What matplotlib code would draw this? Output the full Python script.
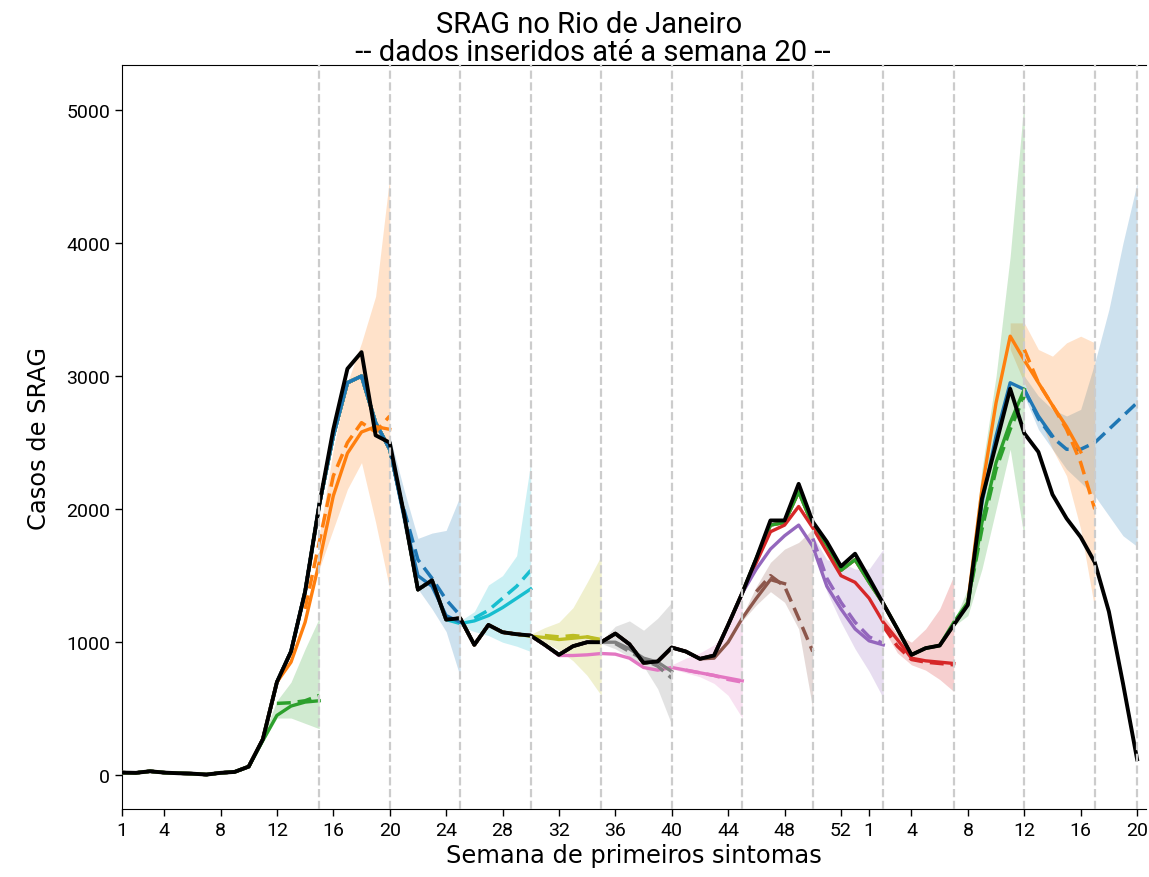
import numpy as np
import matplotlib
matplotlib.use("Agg")
import matplotlib.pyplot as plt

# casos de SRAG por semana (2020: sem 1-53, 2021: sem 1-20), dados inseridos ate a semana 20/2021
casos = [20, 18, 30, 20, 15, 12, 5, 18, 25, 65,
         270, 700, 930, 1380, 2030, 2600, 3055, 3180, 2555, 2500,
         1970, 1395, 1465, 1170, 1180, 980, 1130, 1075, 1060, 1050,
         980, 905, 970, 1000, 1000, 1065, 985, 845, 855, 960,
         930, 875, 900, 1130, 1370, 1630, 1915, 1915, 2190, 1905,
         1755, 1570, 1665, 1480, 1290, 1100, 905, 955, 975, 1130,
         1280, 2080, 2490, 2905, 2570, 2430, 2110, 1930, 1790, 1600,
         1230, 690, 120]

# serie consolidada vista pelas estimativas anteriores
casos_hist = list(casos)
casos_hist[15:20] = [2550, 2950, 3000, 2650, 2450]
casos_hist[46:54] = [1880, 1900, 2130, 1880, 1730, 1540, 1620, 1450]

# ultima semana de cada estimativa (indice), da mais recente para a mais antiga
corte = [72, 69, 64, 59, 54, 49, 44, 39, 34, 29, 24, 19, 14]

# estimativa (linha cheia): indice inicial e valores
est_ini = [60, 60, 59, 45, 45, 42, 31, 34, 29, 24, 19, 12, 10]
est = [
    [1290, 2050, 2550, 2950, 2900, 2700, 2550],
    [1300, 2150, 2800, 3300, 3120, 2950, 2780, 2620, 2430],
    [1150, 1300, 1900, 2350, 2650, 2900],
    [1600, 1830, 1880, 2020, 1860, 1680, 1500, 1450, 1330, 1150, 1020, 880, 860, 850, 840],
    [1550, 1700, 1800, 1880, 1720, 1420, 1250, 1100, 1010, 980],
    [880, 1000, 1180, 1330, 1470, 1440],
    [900, 900, 905, 915, 910, 880, 810, 790, 810, 790, 770, 750, 730, 710],
    [1000, 1000, 950, 880, 850, 780],
    [1045, 1035, 1020, 1030, 1040, 1010],
    [1140, 1160, 1200, 1260, 1330, 1400],
    [2450, 1950, 1500, 1420, 1200, 1150],
    [850, 1150, 1600, 2100, 2420, 2580, 2620, 2600],
    [260, 450, 520, 550, 560],
]

# mediana (linha tracejada)
med_ini = [64, 64, 60, 54, 49, 45, 40, 35, 30, 25, 20, 13, 11]
med = [
    [2900, 2680, 2540, 2450, 2450, 2500, 2600, 2700, 2800],
    [3200, 2950, 2780, 2600, 2350, 2000],
    [1300, 1850, 2300, 2600, 2850],
    [1120, 970, 870, 850, 840, 830],
    [1780, 1480, 1300, 1150, 1040, 990],
    [1380, 1500, 1420, 1180, 930],
    [790, 770, 750, 720, 700],
    [990, 930, 870, 820, 730],
    [1050, 1040, 1050, 1040, 1020],
    [1180, 1240, 1330, 1420, 1540],
    [2000, 1620, 1480, 1320, 1200],
    [1250, 1750, 2250, 2500, 2650, 2580, 2700],
    [540, 545, 560, 600],
]

# intervalo de confianca
ic_ini = [64, 63, 59, 54, 49, 44, 39, 34, 29, 24, 19, 14, 10]
ic_inf = [
    [2850, 2600, 2450, 2300, 2200, 2100, 1950, 1800, 1720],
    [3200, 2950, 2700, 2450, 2250, 1850, 1250],
    [1120, 1200, 1550, 2000, 2450, 1780],
    [1100, 920, 830, 790, 720, 630],
    [1720, 1380, 1150, 950, 780, 580],
    [1160, 1280, 1380, 1300, 1100, 500],
    [800, 770, 740, 690, 600, 430],
    [990, 950, 890, 820, 650, 380],
    [1030, 1000, 940, 860, 750, 600],
    [1120, 1080, 1050, 1000, 970, 930],
    [2400, 1850, 1400, 1250, 1080, 740],
    [1550, 1850, 2150, 2350, 1900, 1400],
    [250, 430, 430, 390, 350],
]
ic_sup = [
    [3000, 2850, 2750, 2700, 2750, 3100, 3500, 4000, 4450],
    [3400, 3400, 3200, 3150, 3250, 3300, 3250],
    [1160, 1400, 2300, 3000, 3900, 5080],
    [1200, 1060, 1000, 1100, 1250, 1500],
    [1800, 1620, 1600, 1550, 1550, 1700],
    [1200, 1420, 1600, 1700, 1750, 1850],
    [830, 880, 920, 980, 1100, 1350],
    [1010, 1120, 1160, 1090, 1180, 1300],
    [1060, 1110, 1150, 1260, 1450, 1650],
    [1160, 1230, 1430, 1500, 1650, 2350],
    [2550, 2150, 1780, 1820, 1840, 2100],
    [1800, 2450, 2950, 3250, 3600, 4500],
    [290, 560, 700, 950, 1180],
]

# rotulos do eixo x
tick_pos = [0, 3, 7, 11, 15, 19, 23, 27, 31, 35, 39, 43, 47, 51, 53, 56, 60, 64, 68, 72]
tick_lab = ["1", "4", "8", "12", "16", "20", "24", "28", "32", "36", "40", "44", "48", "52",
            "1", "4", "8", "12", "16", "20"]

cores = plt.rcParams["axes.prop_cycle"].by_key()["color"]

fig = plt.figure(figsize=(11.49, 8.78), dpi=100)
ax = fig.add_axes([0.106, 0.0774, 0.891, 0.8474])

for i, c in enumerate(corte):
    cor = cores[i % len(cores)]
    y = np.concatenate([casos_hist[:est_ini[i]], est[i]])
    ax.plot(np.arange(len(y)), y, color=cor, lw=2.4, zorder=3)
    xm = np.arange(med_ini[i], med_ini[i] + len(med[i]))
    ax.plot(xm, med[i], color=cor, lw=2.5, ls="--", dashes=(4, 2), zorder=3)
    xi = np.arange(ic_ini[i], ic_ini[i] + len(ic_inf[i]))
    ax.fill_between(xi, ic_inf[i], ic_sup[i], color=cor, alpha=0.22, lw=0, zorder=2)

ax.plot(np.arange(len(casos)), casos, color="black", lw=2.8, zorder=4)

for c in corte:
    ax.axvline(c, color="#cccccc", ls="--", lw=1.6, zorder=5)

ax.set_xlim(0, 72.6)
ax.set_ylim(-254, 5338)
ax.set_xticks(tick_pos)
ax.set_xticklabels(tick_lab, family="Roboto", fontsize=14)
ax.set_yticks([0, 1000, 2000, 3000, 4000, 5000])
ax.set_yticklabels(["0", "1000", "2000", "3000", "4000", "5000"], family="Roboto", fontsize=14)
ax.tick_params(length=5, width=1)
ax.spines["right"].set_visible(False)

ax.set_xlabel("Semana de primeiros sintomas", fontsize=17.4, labelpad=3)
ax.set_ylabel("Casos de SRAG", fontsize=17.4, labelpad=11)
fig.text(0.513, 1 - 61 / 878, "SRAG no Rio de Janeiro\n -- dados inseridos até a semana 20 --",
         family="Roboto", fontsize=21, ha="center", va="baseline", linespacing=1.0)

fig.savefig("out.png", dpi=100)
